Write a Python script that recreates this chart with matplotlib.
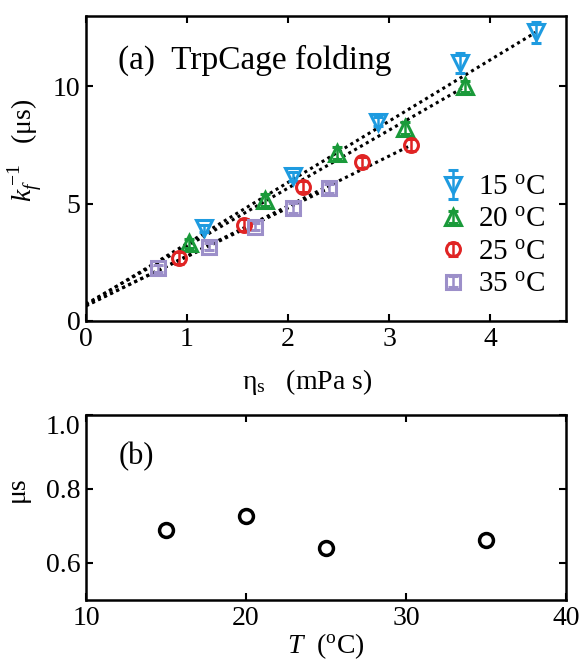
import numpy as np
import matplotlib
matplotlib.use('Agg')
import matplotlib.pyplot as plt
from matplotlib.legend_handler import HandlerErrorbar

plt.rcParams['font.family'] = ['Liberation Serif', 'DejaVu Serif']
plt.rcParams['mathtext.fontset'] = 'custom'
plt.rcParams['mathtext.rm'] = 'Liberation Serif'
plt.rcParams['mathtext.it'] = 'Liberation Serif:italic'
plt.rcParams['font.size'] = 20

# Panel (a): inverse folding rate vs solvent viscosity
temps = [15, 20, 25, 35]
labels = ['15 $^{\\mathrm{o}}$C', '20 $^{\\mathrm{o}}$C', '25 $^{\\mathrm{o}}$C', '35 $^{\\mathrm{o}}$C']
eta = [
    [1.17, 2.05, 2.89, 3.70, 4.45],
    [1.02, 1.77, 2.48, 3.16, 3.75],
    [0.92, 1.56, 2.15, 2.73, 3.22],
    [0.71, 1.22, 1.67, 2.05, 2.40],
]
kinv = [
    [3.96, 6.16, 8.50, 11.00, 12.30],
    [3.31, 5.16, 7.16, 8.22, 10.00],
    [2.67, 4.10, 5.73, 6.76, 7.51],
    [2.25, 3.17, 4.02, 4.81, 5.66],
]
kerr = [
    [0.15, 0.20, 0.20, 0.42, 0.45],
    [0.20, 0.25, 0.25, 0.25, 0.25],
    [0.25, 0.25, 0.25, 0.25, 0.25],
    [0.15, 0.15, 0.15, 0.20, 0.20],
]
slopes = [2.61, 2.47, 2.13, 2.08]

# Panel (b): intercepts
T = [15, 20, 25, 35]
intercept = [0.689, 0.726, 0.641, 0.662]

colors = ['#1E9BE0', '#1A9A3A', '#E02424', '#9C8FC9']
markers = ['v', '^', 'o', 's']
msizes = [11, 11, 10, 10]
leg_err = [0.5, 0.22, 0.22, 0.18]

fig = plt.figure(figsize=(5.85, 6.64), dpi=100)
ax1 = fig.add_axes([0.147, 0.5166, 0.8205, 0.4593])
ax2 = fig.add_axes([0.147, 0.0964, 0.8205, 0.2786])

for i in range(4):
    xe = [0, eta[i][-1]]
    ax1.plot(xe, [intercept[i], intercept[i] + slopes[i] * xe[1]], color='black',
             lw=2.2, linestyle=(0, (1, 1.2)), zorder=1)
conts = []
for i in range(4):
    c = ax1.errorbar(eta[i], kinv[i], yerr=kerr[i], fmt=markers[i], color=colors[i],
                     mfc='none', mec=colors[i], ms=msizes[i], mew=2.2, elinewidth=1.8,
                     capsize=3.5, capthick=1.8, label=labels[i], zorder=3)
    conts.append(c)

ax1.set_xlim(0, 4.75)
ax1.set_ylim(0, 13)
ax1.set_xticks([0, 1, 2, 3, 4])
ax1.set_yticks([0, 5, 10])
ax1.set_xlabel('η$_{\\mathrm{s}}$   (mPa s)')
ax1.set_ylabel('$k_f^{\\,\\mathrm{-1}}$   (μs)')
ax1.xaxis.set_label_coords(0.46, -0.15)
ax1.yaxis.set_label_coords(-0.088, 0.56)
ax1.text(0.067, 0.856, '(a)  TrpCage folding', transform=ax1.transAxes,
         fontsize=24, va='center', ha='left')
hmap = {conts[i]: HandlerErrorbar(yerr_size=leg_err[i]) for i in range(4)}
ax1.legend(handles=conts, labels=labels, handler_map=hmap,
           loc='upper left', bbox_to_anchor=(0.735, 0.48), frameon=False,
           borderpad=0, borderaxespad=0, handlelength=1.0, handletextpad=0.35,
           labelspacing=0.2, fontsize=21)

ax2.plot(T, intercept, 'o', mfc='none', mec='black', ms=10, mew=2.5)
ax2.set_xlim(10, 40)
ax2.set_ylim(0.5, 1.0)
ax2.set_xticks([10, 20, 30, 40])
ax2.set_yticks([0.6, 0.8, 1.0])
ax2.set_yticklabels(['0.6', '0.8', '1.0'])
ax2.get_yticklabels()[-1].set_verticalalignment('top')
ax2.set_xlabel('$T$  ($^{\\mathrm{o}}$C)')
ax2.set_ylabel('μs')
ax2.xaxis.set_label_coords(0.5, -0.17)
ax2.yaxis.set_label_coords(-0.118, 0.6)
ax2.text(0.069, 0.775, '(b)', transform=ax2.transAxes, fontsize=22,
         va='center', ha='left')

for ax in (ax1, ax2):
    for s in ax.spines.values():
        s.set_linewidth(1.8)
    ax.tick_params(direction='in', length=5, width=1.5, top=True, right=True,
                   labelsize=20, pad=4)

fig.savefig('out.png', dpi=100)
